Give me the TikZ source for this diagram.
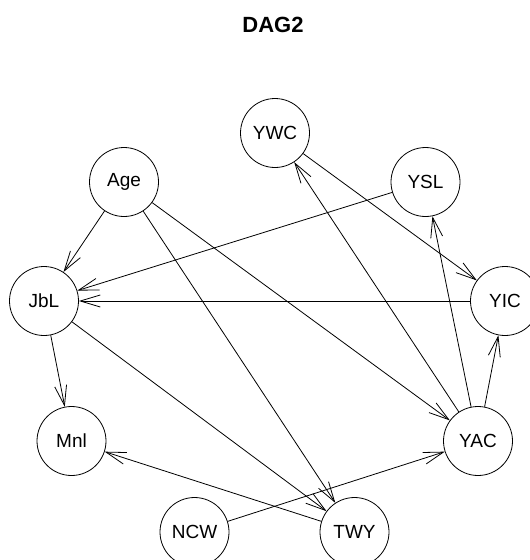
\documentclass[tikz,border=0pt]{standalone}
\usepackage{fontspec}
\setmainfont{Liberation Sans}
\usetikzlibrary{arrows.meta}
\begin{document}
\begin{tikzpicture}[x=1pt,y=-1pt,
  var/.style={circle,draw,line width=0.8pt,minimum size=69pt,inner sep=0pt,
    font=\fontsize{19}{19}\selectfont},
  arr/.style={line width=0.8pt,-{Straight Barb[length=20pt,width=12pt,line width=0.8pt]}},
  heading/.style={font=\fontsize{22}{22}\selectfont\bfseries}]
  \useasboundingbox[fill=white] (0,0) rectangle (530,560);
  \node[heading] (title) at (273,25) {DAG2};
  % variables
  \node[var] (YWC) at (275,133) {YWC};
  \node[var] (Age) at (124,182) {Age};
  \node[var] (YSL) at (425.5,182) {YSL};
  \node[var] (JbL) at (44,301) {JbL};
  \node[var] (YIC) at (505,301) {YIC};
  \node[var] (Mnl) at (71.5,441) {Mnl};
  \node[var] (YAC) at (478,441) {YAC};
  \node[var] (NCW) at (194.5,532) {NCW};
  \node[var] (TWY) at (354.5,532) {TWY};
  % arcs
  \draw[arr] (Age) -- (JbL);
  \draw[arr] (Age) -- (YAC);
  \draw[arr] (Age) -- (TWY);
  \draw[arr] (YSL) -- (JbL);
  \draw[arr] (YIC) -- (JbL);
  \draw[arr] (JbL) -- (Mnl);
  \draw[arr] (JbL) -- (TWY);
  \draw[arr] (YWC) -- (YIC);
  \draw[arr] (YAC) -- (YWC);
  \draw[arr] (YAC) -- (YSL);
  \draw[arr] (YAC) -- (YIC);
  \draw[arr] (TWY) -- (Mnl);
  \draw[arr] (NCW) -- (YAC);
\end{tikzpicture}
\end{document}
